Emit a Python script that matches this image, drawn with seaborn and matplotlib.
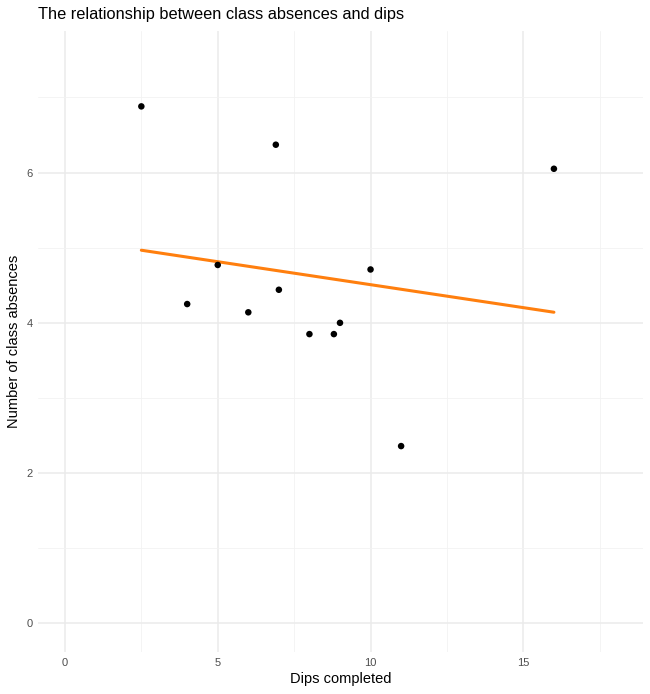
import numpy as np
import pandas as pd
import matplotlib
matplotlib.use("Agg")
import matplotlib.pyplot as plt
from matplotlib.ticker import MultipleLocator
import seaborn as sns

# data
dips = [2.5, 6.9, 16, 5, 4, 7, 6, 8, 8.8, 9, 10, 11]
absences = [6.88, 6.37, 6.05, 4.77, 4.25, 4.44, 4.14, 3.85, 3.85, 4.0, 4.71, 2.36]

df = pd.DataFrame({"dips": dips, "absences": absences})

sns.set_theme(style="white")
plt.rcParams['font.family'] = ['Liberation Sans', 'DejaVu Sans']

fig, ax = plt.subplots(figsize=(6.5, 6.94), dpi=100)
fig.subplots_adjust(left=0.059, right=0.989, top=0.955, bottom=0.0605)

sns.scatterplot(data=df, x="dips", y="absences", color="black", s=22,
                edgecolor="none", ax=ax, zorder=3)
sns.regplot(data=df, x="dips", y="absences", scatter=False, ci=None,
            truncate=True, color="#FF7F0E", line_kws={"linewidth": 2.2}, ax=ax)

ax.set_xlim(-0.87, 18.91)
ax.set_ylim(-0.38, 7.88)
ax.xaxis.set_major_locator(MultipleLocator(5))
ax.xaxis.set_minor_locator(MultipleLocator(2.5))
ax.yaxis.set_major_locator(MultipleLocator(2))
ax.yaxis.set_minor_locator(MultipleLocator(1))
ax.grid(which="major", color="#EBEBEB", linewidth=1.1)
ax.grid(which="minor", color="#F2F2F2", linewidth=0.6)
ax.set_axisbelow(True)
for sp in ax.spines.values():
    sp.set_visible(False)
ax.tick_params(which="both", length=0, labelsize=8, labelcolor="#4D4D4D", pad=4)

ax.set_xlabel("Dips completed", fontsize=10.5, labelpad=3, color="black")
ax.set_ylabel("Number of class absences", fontsize=10.5, labelpad=4, color="black")
ax.set_title("The relationship between class absences and dips", loc="left",
             fontsize=11.8, pad=9, color="black")

fig.savefig("out.png", dpi=100)
